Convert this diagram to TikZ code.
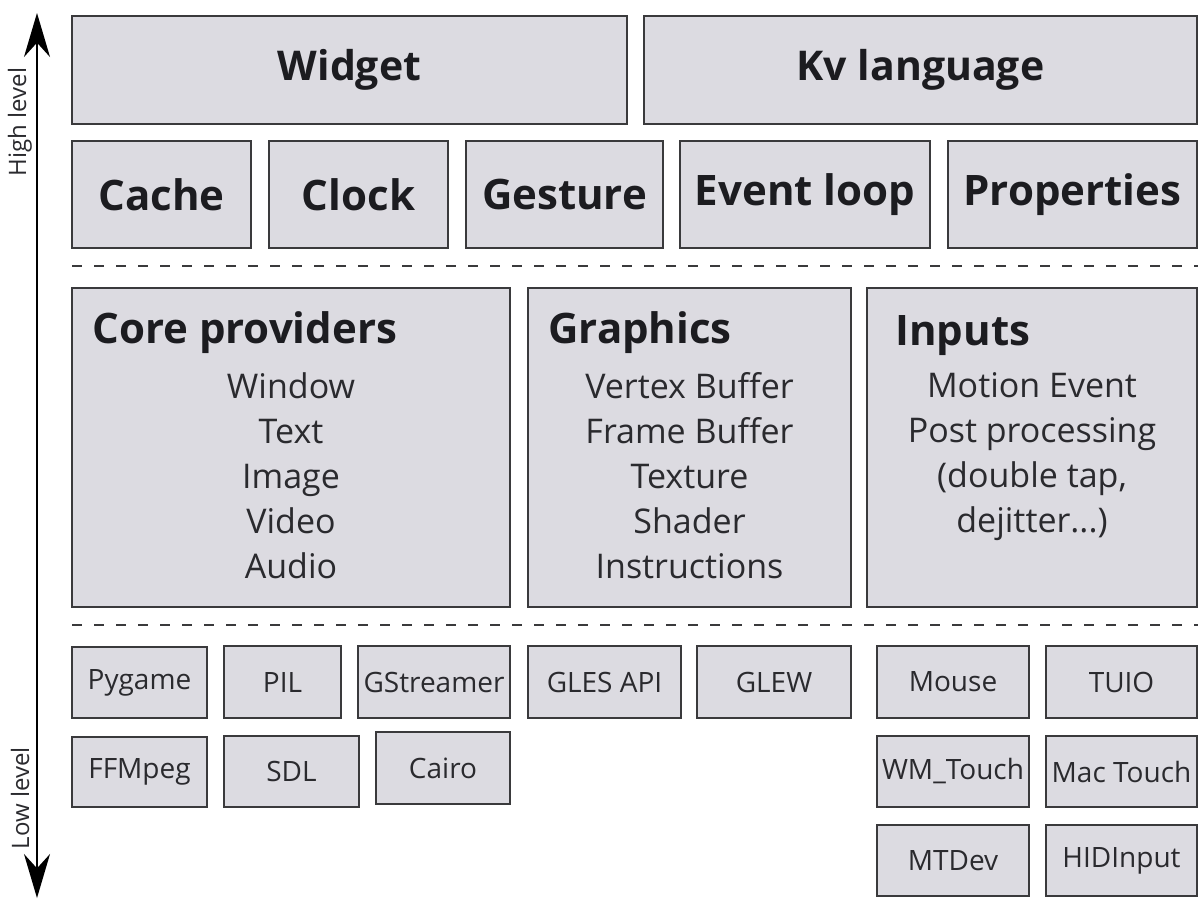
\documentclass[tikz,border=0pt]{standalone}
\usepackage{fontspec}
\setmainfont{Open Sans}
\usetikzlibrary{arrows.meta,fit,positioning}
\definecolor{boxfill}{HTML}{DCDBE1}
\definecolor{boxline}{HTML}{3A3A3C}
\definecolor{inkdark}{HTML}{1C1C20}
\definecolor{inkgray}{HTML}{2A2A2E}
\tikzset{
    %Define style for the layer boxes
    layer/.style={
           rectangle,
           draw=boxline, line width=1pt,
           fill=boxfill,
           inner sep=0pt},
    %Define styles for the texts
    bigtext/.style={
           inner sep=0pt,
           text=inkdark,
           font=\bfseries\fontsize{20.5}{24}\selectfont},
    modtext/.style={
           inner sep=0pt,
           text=inkdark,
           font=\bfseries\fontsize{21}{25}\selectfont},
    lowtext/.style={
           inner sep=0pt,
           text=inkgray,
           font=\fontsize{14}{17}\selectfont},
    paneltitle/.style={
           anchor=base west,
           inner sep=0pt,
           text=inkdark,
           font=\bfseries\fontsize{21}{25}\selectfont},
    panellist/.style={
           anchor=north,
           align=center,
           inner sep=0pt,
           text=inkgray,
           font=\fontsize{17}{22.5}\selectfont},
    % Define separator and axis styles
    sep/.style={
           dash pattern=on 5pt off 6pt,
           line width=0.8pt,
           draw=boxline},
    levelarrow/.style={
           {Stealth[length=22pt,width=13pt]}-{Stealth[length=22pt,width=13pt]},
           line width=1pt,
           draw=black},
    levellabel/.style={
           rotate=90,
           inner sep=0pt,
           text=inkgray,
           font=\fontsize{12}{14}\selectfont}
}

\begin{document}
\begin{tikzpicture}[x=0.5pt,y=-0.5pt]
\useasboundingbox (0,0) rectangle (1198,900);

 %high level
\node[layer, fit={(72,16) (627,124)}, label={[bigtext]center:Widget}](widget){};
\node[layer, fit={(644,16) (1197,124)}, label={[bigtext]center:Kv language}](kv){};
\node[layer, fit={(72,141) (251,248)}, label={[modtext]center:Cache}](cache){};
\node[layer, fit={(269,141) (448,248)}, label={[modtext]center:Clock}](clock){};
\node[layer, fit={(466,141) (663,248)}, label={[modtext]center:Gesture}](gesture){};
\node[layer, fit={(680,141) (930,248)}, label={[modtext]center:Event loop}](eventloop){};
\node[layer, fit={(948,141) (1197,248)}, label={[modtext]center:Properties}](properties){};

 %separators
\coordinate (sepAw) at (72,266);
\coordinate (sepAe) at (1198,266);
\coordinate (sepBw) at (72,625);
\coordinate (sepBe) at (1198,625);
\draw[sep] (sepAw) -- (sepAe);
\draw[sep] (sepBw) -- (sepBe);

 %core
\node[layer, fit={(72,288) (510,607)}](core){};
\node[paneltitle] (coretitle) at (92,343) {Core providers};
\node[panellist, below=42.5pt of core.north] (corelist)
    {Window\\Text\\Image\\Video\\Audio};

\node[layer, fit={(528,288) (851,607)}](graphics){};
\node[paneltitle] (graphicstitle) at (548,343) {Graphics};
\node[panellist, below=42.5pt of graphics.north] (graphicslist)
    {Vertex Buffer\\Frame Buffer\\Texture\\Shader\\Instructions};

\node[layer, fit={(867,288) (1197,607)}](inputs){};
\node[paneltitle] (inputstitle) at (895,345) {Inputs};
\node[panellist, below=42.5pt of inputs.north] (inputslist)
    {Motion Event\\Post processing\\(double tap,\\dejitter...)};

 %low level
\node[layer, fit={(72,647) (207,718)}, label={[lowtext]center:Pygame}](pygame){};
\node[layer, fit={(224,646) (341,718)}, label={[lowtext]center:PIL}](pil){};
\node[layer, fit={(358,646) (510,718)}, label={[lowtext]center:GStreamer}](gstreamer){};
\node[layer, fit={(528,646) (681,718)}, label={[lowtext]center:GLES API}](glesapi){};
\node[layer, fit={(697,646) (851,718)}, label={[lowtext]center:GLEW}](glew){};
\node[layer, fit={(877,646) (1029,718)}, label={[lowtext]center:Mouse}](mouse){};
\node[layer, fit={(1046,646) (1197,718)}, label={[lowtext]center:TUIO}](tuio){};
\node[layer, fit={(72,737) (207,807)}, label={[lowtext]center:FFMpeg}](ffmpeg){};
\node[layer, fit={(224,736) (359,807)}, label={[lowtext]center:SDL}](sdl){};
\node[layer, fit={(376,732) (510,804)}, label={[lowtext]center:Cairo}](cairo){};
\node[layer, fit={(877,736) (1029,807)}, label={[lowtext]center:WM\_Touch}](wmtouch){};
\node[layer, fit={(1046,736) (1197,807)}, label={[lowtext]center:Mac Touch}](mactouch){};
\node[layer, fit={(877,825) (1029,896)}, label={[lowtext]center:MTDev}](mtdev){};
\node[layer, fit={(1046,825) (1197,896)}, label={[lowtext]center:HIDInput}](hidinput){};

 %axis
\coordinate (axtop) at (37,13);
\coordinate (axbot) at (37,898);
\draw[levelarrow] (axbot) -- (axtop);
\node[levellabel] (high) at (20,122) {High level};
\node[levellabel] (low) at (20,798) {Low level};

\end{tikzpicture}
\end{document}
